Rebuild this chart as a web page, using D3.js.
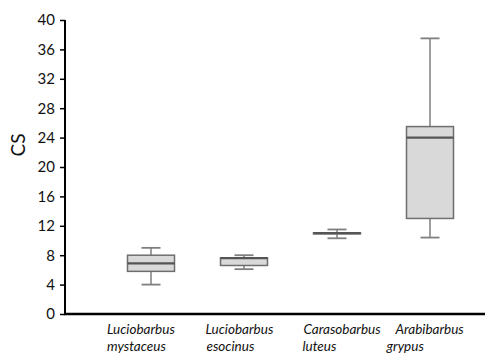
<!DOCTYPE html>
<html>
<head>
<meta charset="utf-8">
<script src="https://cdn.jsdelivr.net/npm/d3@7/dist/d3.min.js"></script>
<style>
  html, body { margin: 0; padding: 0; background: #fff; }
  svg { display: block; }
</style>
</head>
<body>
<svg id="chart" width="485" height="355"></svg>
<script>
// Species (two-line italic labels)
const speciesLine1 = ["Luciobarbus", "Luciobarbus", "Carasobarbus", "Arabibarbus"];
const speciesLine2 = ["mystaceus", "esocinus", "luteus", "grypus"];

// Box-plot statistics for CS
const whiskerMin = [4.0, 6.1, 10.3, 10.4];
const quartile1  = [5.8, 6.6, 10.9, 13.0];
const medians    = [6.9, 7.6, 11.0, 24.0];
const quartile3  = [8.0, 7.65, 11.05, 25.5];
const whiskerMax = [9.0, 8.0, 11.5, 37.5];

const yTicks = [0, 4, 8, 12, 16, 20, 24, 28, 32, 36, 40];

const svg = d3.select("#chart");
const plot = { left: 65, top: 20, bottom: 314, right: 485 };

const y = d3.scaleLinear().domain([0, 40]).range([plot.bottom, plot.top]);
const x = d3.scalePoint()
  .domain(speciesLine1.map((d, i) => i))
  .range([104.5, 476.5])
  .padding(0.5);

const boxW = 47;
const capW = 19;

const data = speciesLine1.map((d, i) => ({
  i, min: whiskerMin[i], q1: quartile1[i], med: medians[i], q3: quartile3[i], max: whiskerMax[i]
}));

const g = svg.append("g");
const boxes = g.selectAll("g.box").data(data).join("g").attr("class", "box");

// whisker stems
boxes.append("line")
  .attr("x1", d => x(d.i)).attr("x2", d => x(d.i))
  .attr("y1", d => y(d.max)).attr("y2", d => y(d.q3))
  .attr("stroke", "#7f7f7f").attr("stroke-width", 1.5);
boxes.append("line")
  .attr("x1", d => x(d.i)).attr("x2", d => x(d.i))
  .attr("y1", d => y(d.q1)).attr("y2", d => y(d.min))
  .attr("stroke", "#7f7f7f").attr("stroke-width", 1.5);
// whisker caps
boxes.append("line")
  .attr("x1", d => x(d.i) - capW / 2).attr("x2", d => x(d.i) + capW / 2)
  .attr("y1", d => y(d.max)).attr("y2", d => y(d.max))
  .attr("stroke", "#7f7f7f").attr("stroke-width", 1.8);
boxes.append("line")
  .attr("x1", d => x(d.i) - capW / 2).attr("x2", d => x(d.i) + capW / 2)
  .attr("y1", d => y(d.min)).attr("y2", d => y(d.min))
  .attr("stroke", "#7f7f7f").attr("stroke-width", 1.8);
// interquartile box
boxes.append("rect")
  .attr("x", d => x(d.i) - boxW / 2)
  .attr("width", boxW)
  .attr("y", d => y(d.q3))
  .attr("height", d => y(d.q1) - y(d.q3))
  .attr("fill", "#d9d9d9")
  .attr("stroke", "#6e6e6e").attr("stroke-width", 1.5);
// median
boxes.append("line")
  .attr("x1", d => x(d.i) - boxW / 2).attr("x2", d => x(d.i) + boxW / 2)
  .attr("y1", d => y(d.med)).attr("y2", d => y(d.med))
  .attr("stroke", "#555").attr("stroke-width", 2.2);

// y axis
const yAxis = d3.axisLeft(y).tickValues(yTicks).tickSize(5).tickPadding(5);
const ya = svg.append("g").attr("transform", `translate(${plot.left},0)`).call(yAxis);
ya.select(".domain").attr("stroke", "#000").attr("stroke-width", 2)
  .attr("d", `M0,${plot.top}V${plot.bottom}`);
ya.selectAll(".tick line").attr("stroke", "#000").attr("stroke-width", 1.5);
ya.selectAll(".tick text")
  .attr("fill", "#111")
  .style("font-family", "Lato, 'Open Sans', sans-serif")
  .style("font-size", "15px");

// x axis baseline
svg.append("line")
  .attr("x1", plot.left - 1).attr("x2", plot.right)
  .attr("y1", y(0)).attr("y2", y(0))
  .attr("stroke", "#000").attr("stroke-width", 2.5);

// category labels
const labelOffsets = [-44, -38.5, -33.5, -34.5];
const line2Offsets = [-44, -37.5, -34.5, -43.5];
const labels = svg.append("g")
  .style("font-family", "Lato, 'Open Sans', sans-serif")
  .style("font-style", "italic")
  .style("font-size", "13.5px")
  .attr("fill", "#111");
labels.selectAll("text.l1").data(data).join("text").attr("class", "l1")
  .attr("x", d => x(d.i) + labelOffsets[d.i]).attr("y", 334)
  .text(d => speciesLine1[d.i]);
labels.selectAll("text.l2").data(data).join("text").attr("class", "l2")
  .attr("x", d => x(d.i) + line2Offsets[d.i]).attr("y", 351)
  .text(d => speciesLine2[d.i]);

// y axis title
svg.append("text")
  .attr("transform", "translate(25,145) rotate(-90)")
  .attr("text-anchor", "middle")
  .style("font-family", "Lato, 'Open Sans', sans-serif")
  .style("font-size", "19px")
  .attr("fill", "#111")
  .text("CS");
</script>
</body>
</html>
